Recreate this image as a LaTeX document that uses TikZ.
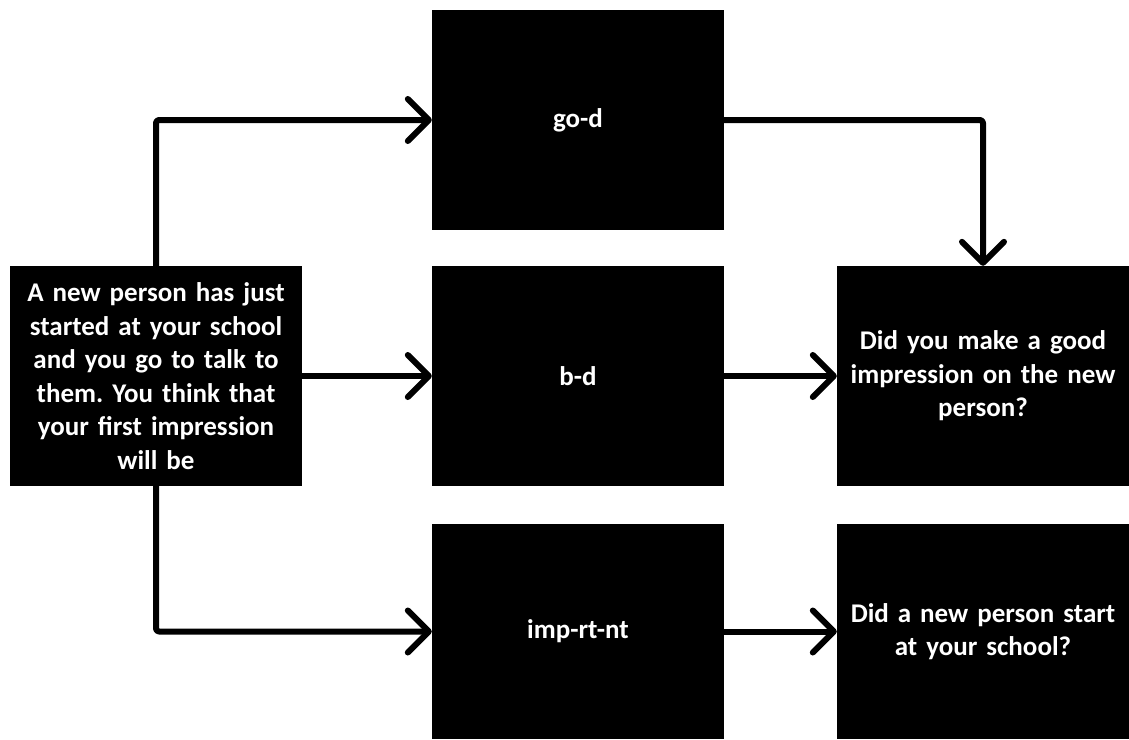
\documentclass[tikz,border=0pt]{standalone}
\usepackage{fontspec}
\setmainfont{Carlito}
\usetikzlibrary{arrows.meta}
\frenchspacing
\begin{document}
\begin{tikzpicture}[x=1pt,y=-1pt,
  box/.style={fill=black,text=white,font=\bfseries\fontsize{27}{33.5}\selectfont,
    align=center,minimum width=292pt,minimum height=220pt,text width=286pt,inner sep=0pt},
  conn/.style={line width=6pt,line join=round,rounded corners=3pt,
    -{Straight Barb[length=21pt,width=42pt,line cap=round,line join=round]}}]
\useasboundingbox (0,0) rectangle (1129,739);
\node[box] (start) at (156,376) {A new person has just\\started at your school\\and you go to talk to\\them. You think that\\your first impression\\will be};
\node[box] (good) at (578,120) {go-d};
\node[box] (bad) at (578,376) {b-d};
\node[box,minimum height=215pt] (imp) at (578,631.5) {imp-rt-nt};
\node[box] (q1) at (983,376) {Did you make a good\\impression on the new\\person?};
\node[box,minimum height=215pt] (q2) at (983,631.5) {Did a new person start\\at your school?};
\draw[conn] (start.north) |- (good.west);
\draw[conn] (start.east) -- (bad.west);
\draw[conn] (start.south) |- (imp.west);
\draw[conn] (good.east) -| (q1.north);
\draw[conn] (bad.east) -- (q1.west);
\draw[conn] (imp.east) -- (q2.west);
\end{tikzpicture}
\end{document}
